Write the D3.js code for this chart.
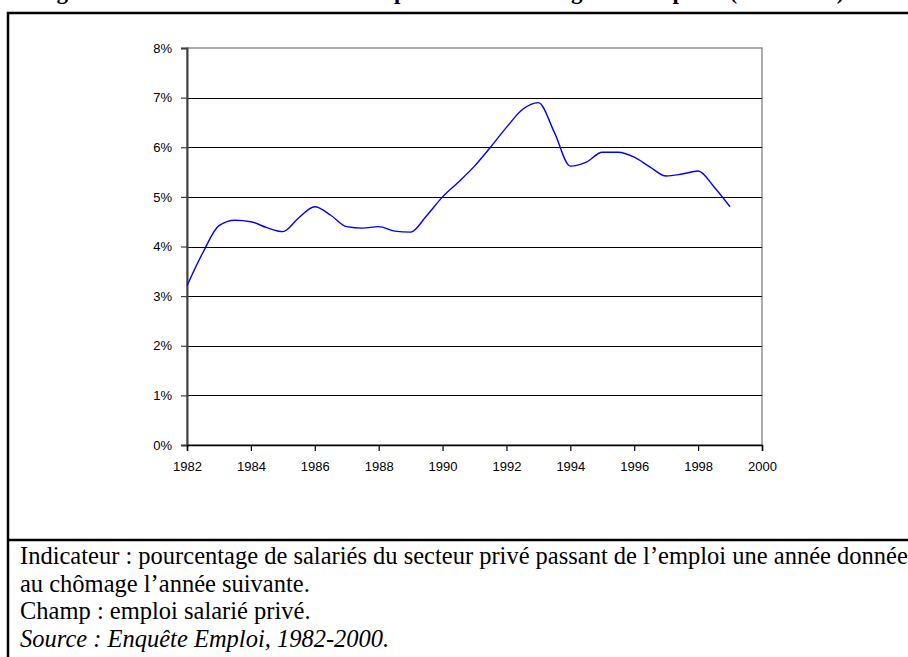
<!DOCTYPE html>
<html>
<head>
<meta charset="utf-8">
<script src="https://cdn.jsdelivr.net/npm/d3@7"></script>
<style>
  html, body { margin: 0; padding: 0; background: #fff; }
  svg { display: block; }
</style>
</head>
<body>
<svg id="chart" width="908" height="657"></svg>
<script>
// ---- Data ----
const years = [1982, 1982.5, 1983, 1983.5, 1984, 1984.5, 1985, 1985.5, 1986, 1986.5,
               1987, 1987.5, 1988, 1988.5, 1989, 1989.5, 1990, 1990.5, 1991, 1991.5,
               1992, 1992.5, 1993, 1993.5, 1994, 1994.5, 1995, 1995.5, 1996, 1996.5,
               1997, 1997.5, 1998, 1998.5, 1999];
const rates = [3.21, 3.88, 4.42, 4.53, 4.50, 4.38, 4.30, 4.58, 4.80, 4.63,
               4.40, 4.37, 4.40, 4.31, 4.29, 4.62, 5.00, 5.30, 5.62, 6.00,
               6.40, 6.76, 6.90, 6.30, 5.62, 5.70, 5.90, 5.90, 5.80, 5.60,
               5.42, 5.46, 5.52, 5.20, 4.80];
const xTicks = [1982, 1984, 1986, 1988, 1990, 1992, 1994, 1996, 1998, 2000];
const yTicks = [0, 1, 2, 3, 4, 5, 6, 7, 8];
const titleText = "Figure 1 : Taux de transition de l’emploi vers le chômage dans le privé (1982-1999)";
const notes = [
  {text: "Indicateur : pourcentage de salariés du secteur privé passant de l’emploi une année donnée", italic: false},
  {text: "au chômage l’année suivante.", italic: false},
  {text: "Champ : emploi salarié privé.", italic: false},
  {text: "Source : Enquête Emploi, 1982-2000.", italic: true}
];

// ---- Layout ----
const svg = d3.select("#chart");
const plot = {left: 187, right: 762, top: 48, bottom: 445};

const x = d3.scaleLinear().domain([1982, 2000]).range([plot.left, plot.right]);
const y = d3.scaleLinear().domain([0, 8]).range([plot.bottom, plot.top]);

// Title (clipped at top of the page, as in the reference)
svg.append("text")
  .attr("x", 36).attr("y", -1)
  .attr("font-family", "'Liberation Serif', 'Times New Roman', serif")
  .attr("font-weight", "bold")
  .attr("font-size", 23)
  .text(titleText);

// Outer box
svg.append("rect")
  .attr("x", 8).attr("y", 13)
  .attr("width", 940).attr("height", 700)
  .attr("fill", "none").attr("stroke", "#000").attr("stroke-width", 2.5);

// Separator between chart and notes
svg.append("line")
  .attr("x1", 8).attr("x2", 920)
  .attr("y1", 540).attr("y2", 540)
  .attr("stroke", "#000").attr("stroke-width", 2.5);

// Plot frame (gray top & right)
svg.append("rect")
  .attr("x", plot.left).attr("y", plot.top)
  .attr("width", plot.right - plot.left).attr("height", plot.bottom - plot.top)
  .attr("fill", "none").attr("stroke", "#808080").attr("stroke-width", 1.3);

// Gridlines
svg.append("g")
  .selectAll("line")
  .data(yTicks.filter(d => d > 0 && d < 8))
  .join("line")
  .attr("x1", plot.left).attr("x2", plot.right)
  .attr("y1", d => Math.round(y(d)) + 0.5).attr("y2", d => Math.round(y(d)) + 0.5)
  .attr("stroke", "#000").attr("stroke-width", 1.2);

// Y axis
const yAxis = d3.axisLeft(y).tickValues(yTicks).tickFormat(d => d + "%").tickSize(6).tickPadding(9);
const gy = svg.append("g").attr("transform", `translate(${plot.left},0)`).call(yAxis);
gy.select(".domain").attr("stroke", "#404040").attr("stroke-width", 2);
gy.selectAll(".tick line").attr("stroke", "#404040").attr("stroke-width", 1.2);
gy.selectAll(".tick text")
  .attr("font-family", "'Liberation Sans', Arial, sans-serif")
  .attr("font-size", 13).attr("fill", "#000");

// X axis
const xAxis = d3.axisBottom(x).tickValues(xTicks).tickFormat(d3.format("d")).tickSize(6).tickPadding(11);
const gx = svg.append("g").attr("transform", `translate(0,${plot.bottom})`).call(xAxis);
gx.select(".domain").attr("stroke", "#000").attr("stroke-width", 1.5);
gx.selectAll(".tick line").attr("stroke", "#000").attr("stroke-width", 1.2);
gx.selectAll(".tick text")
  .attr("font-family", "'Liberation Sans', Arial, sans-serif")
  .attr("font-size", 13).attr("fill", "#000");

// Line
const series = years.map((yr, i) => ({year: yr, value: rates[i]}));
const line = d3.line().x(d => x(d.year)).y(d => y(d.value)).curve(d3.curveMonotoneX);
svg.append("path")
  .datum(series)
  .attr("d", line)
  .attr("fill", "none")
  .attr("stroke", "#0000ff")
  .attr("stroke-width", 1.4);

// Notes
svg.append("g")
  .selectAll("text")
  .data(notes)
  .join("text")
  .attr("x", 20)
  .attr("y", (d, i) => 564 + i * 27.5)
  .attr("font-family", "'Liberation Serif', 'Times New Roman', serif")
  .attr("font-size", 24.5)
  .attr("font-style", d => d.italic ? "italic" : "normal")
  .attr("fill", "#000")
  .text(d => d.text);
</script>
</body>
</html>
